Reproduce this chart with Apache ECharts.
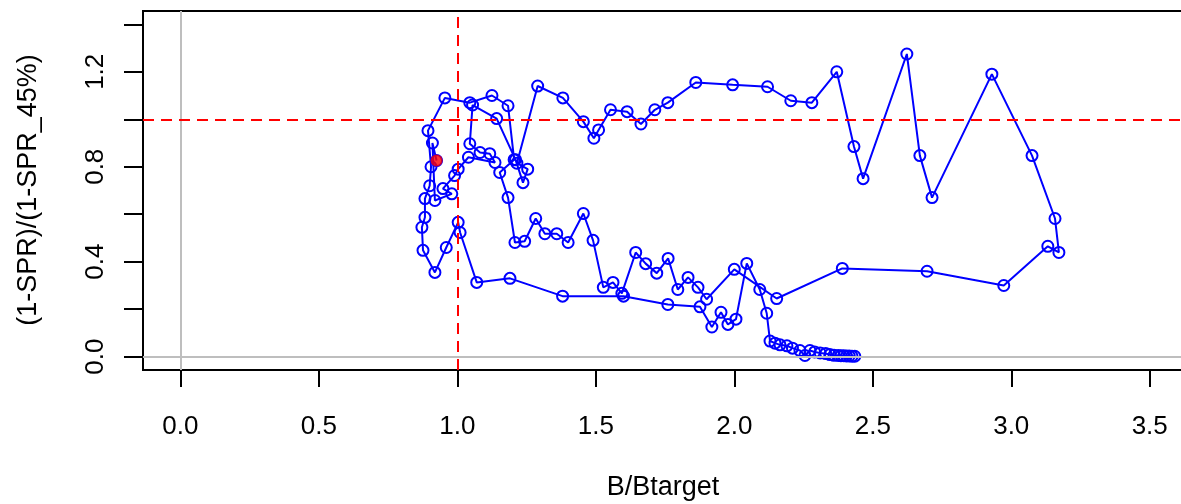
<!DOCTYPE html>
<html>
<head>
<meta charset="utf-8">
<script src="https://cdn.jsdelivr.net/npm/echarts@6/dist/echarts.min.js"></script>
<style>
  html, body { margin: 0; padding: 0; background: #ffffff; }
  #chart { width: 1181px; height: 504px; }
</style>
</head>
<body>
<div id="chart"></div>
<script>
// Stock trajectory: biomass relative to target vs. fishing intensity ratio, year by year
const bRatio = [
  2.435, 2.425, 2.415, 2.405, 2.395, 2.385, 2.375, 2.360, 2.345, 2.330,
  2.310, 2.290, 2.273, 2.255, 2.237, 2.210, 2.190, 2.165, 2.147, 2.129,
  2.117, 2.092, 2.045, 2.006, 1.977, 1.952, 1.919, 1.876, 1.760, 1.600,
  1.380, 1.190, 1.070, 1.010, 1.003, 0.960, 0.919, 0.876, 0.872, 0.883,
  0.883, 0.900, 0.905, 0.894, 0.955, 1.045, 1.125, 1.183, 1.205, 1.153,
  1.183, 1.208, 1.243, 1.283, 1.316, 1.359, 1.400, 1.455, 1.490, 1.527,
  1.562, 1.594, 1.644, 1.680, 1.720, 1.761, 1.796, 1.833, 1.869, 1.900,
  2.000, 2.153, 2.390, 2.696, 2.973, 3.132, 3.172, 3.158, 3.075, 2.930,
  2.714, 2.670, 2.623, 2.465, 2.432, 2.370, 2.280, 2.204, 2.120, 1.994,
  1.861, 1.760, 1.713, 1.663, 1.613, 1.553, 1.510, 1.493, 1.455, 1.381,
  1.290, 1.215, 1.254, 1.237, 1.210, 1.142, 1.055, 1.045, 1.082, 1.117,
  1.136, 1.040, 1.003, 0.990, 0.948, 0.980, 0.919, 0.910, 0.925
];
const fRatio = [
  0.002, 0.002, 0.003, 0.003, 0.004, 0.004, 0.005, 0.006, 0.009, 0.013,
  0.016, 0.020, 0.026, 0.005, 0.026, 0.036, 0.046, 0.050, 0.057, 0.066,
  0.183, 0.283, 0.393, 0.158, 0.136, 0.187, 0.125, 0.210, 0.220, 0.255,
  0.255, 0.330, 0.313, 0.523, 0.566, 0.460, 0.355, 0.448, 0.545, 0.587,
  0.666, 0.720, 0.800, 0.952, 1.090, 1.070, 1.100, 1.057, 0.830, 0.776,
  0.670, 0.481, 0.486, 0.582, 0.518, 0.518, 0.481, 0.603, 0.490, 0.292,
  0.313, 0.267, 0.439, 0.392, 0.352, 0.414, 0.283, 0.334, 0.292, 0.242,
  0.368, 0.245, 0.372, 0.360, 0.300, 0.465, 0.439, 0.582, 0.847, 1.190,
  0.670, 0.847, 1.275, 0.750, 0.885, 1.200, 1.070, 1.078, 1.137, 1.145,
  1.155, 1.070, 1.040, 0.980, 1.032, 1.040, 0.955, 0.920, 0.990, 1.090,
  1.140, 0.815, 0.790, 0.733, 0.830, 1.003, 1.060, 0.897, 0.860, 0.855,
  0.818, 0.840, 0.790, 0.763, 0.708, 0.686, 0.658, 0.900, 0.826
];
// Most recent year, highlighted
const lastB = [0.925];
const lastF = [0.826];

// Axis ticks
const xTicks = [0, 0.5, 1, 1.5, 2, 2.5, 3, 3.5];
const yTicks = [0, 0.2, 0.4, 0.6, 0.8, 1.0, 1.2, 1.4];
const yLabels = [0, 0.4, 0.8, 1.2];

const trajectory = bRatio.map((b, i) => [b, fRatio[i]]);
const lastPoint = lastB.map((b, i) => [b, lastF[i]]);

const FONT = '"Liberation Sans", Arial, sans-serif';

const chart = echarts.init(document.getElementById('chart'), null, { renderer: 'canvas' });
chart.setOption({
  animation: false,
  backgroundColor: '#ffffff',
  grid: {
    left: 143, top: 11, width: 1048, height: 359,
    show: true, borderColor: '#000000', borderWidth: 2,
    backgroundColor: 'transparent',
    outerBoundsMode: 'none', containLabel: false
  },
  xAxis: {
    type: 'value', min: -0.135, max: 3.649,
    splitLine: { show: false },
    axisLine: { show: false, onZero: false },
    axisTick: { show: true, inside: false, length: 17, customValues: xTicks,
      lineStyle: { color: '#000000', width: 2 } },
    axisLabel: { show: true, customValues: xTicks, margin: 44,
      formatter: v => v.toFixed(1),
      fontFamily: FONT, fontSize: 26, color: '#000000' }
  },
  yAxis: {
    type: 'value', min: -0.056, max: 1.456,
    splitLine: { show: false },
    axisLine: { show: false, onZero: false },
    axisTick: { show: true, inside: false, length: 19, customValues: yTicks,
      lineStyle: { color: '#000000', width: 2 } },
    axisLabel: { show: true, customValues: yLabels, margin: 34, rotate: 90,
      formatter: v => v.toFixed(1),
      fontFamily: FONT, fontSize: 26, color: '#000000' }
  },
  graphic: [
    { type: 'text', x: 663, y: 488,
      style: { text: 'B/Btarget', fontFamily: FONT, fontSize: 27, fill: '#000000',
        align: 'center', verticalAlign: 'middle' } },
    { type: 'text', x: 29, y: 190, rotation: Math.PI / 2,
      style: { text: '(1-SPR)/(1-SPR_45%)', fontFamily: FONT, fontSize: 27, fill: '#000000',
        align: 'center', verticalAlign: 'middle' } }
  ],
  series: [
    {
      // zero reference lines
      type: 'line', data: [], z: 1, silent: true,
      markLine: {
        silent: true, symbol: 'none', label: { show: false },
        lineStyle: { color: '#bebebe', width: 2, type: 'solid' },
        data: [{ xAxis: 0 }, { yAxis: 0 }]
      }
    },
    {
      type: 'line', data: trajectory, z: 3,
      symbol: 'circle', symbolSize: 11,
      itemStyle: { color: 'rgba(0,0,0,0)', borderColor: '#0000ff', borderWidth: 2 },
      lineStyle: { color: '#0000ff', width: 2 },
      emphasis: { disabled: true }
    },
    {
      type: 'scatter', data: lastPoint, z: 4,
      symbol: 'circle', symbolSize: 12,
      itemStyle: { color: '#ff0000' }
    },
    {
      // target reference lines
      type: 'line', data: [], z: 5, silent: true,
      markLine: {
        silent: true, symbol: 'none', label: { show: false },
        lineStyle: { color: '#ff0000', width: 2, type: [11, 7] },
        data: [{ xAxis: 1 }, { yAxis: 1 }]
      }
    }
  ]
});
</script>
</body>
</html>
